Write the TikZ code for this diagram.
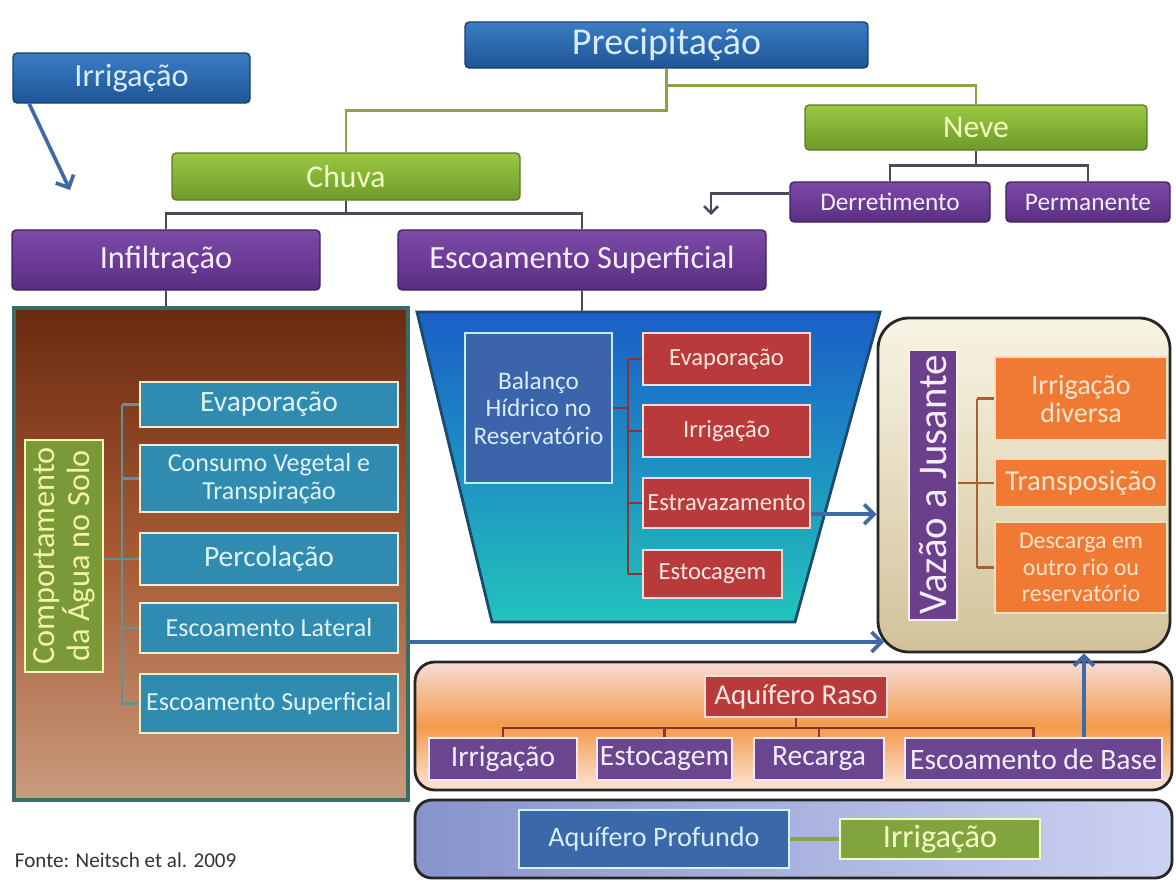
\documentclass[tikz,border=0pt]{standalone}
\usepackage{fontspec}
\setmainfont{Carlito}
\usetikzlibrary{arrows.meta}

\begin{document}
\begin{tikzpicture}[x=0.025cm,y=-0.025cm,
    area/.style n args={4}{at={({(#1+#3)/2},{(#2+#4)/2})},minimum width={(#3-#1)*0.025cm},minimum height={(#4-#2)*0.025cm}},
    box/.style={inner sep=0pt,align=center},
    bluebox/.style={box,rounded corners=3pt,draw=BlueEdge,line width=1pt,top color=BlueTop,bottom color=BlueBot,text=BlueText,font=\fontsize{23}{26}\selectfont},
    greenbox/.style={box,rounded corners=3pt,draw=GreenEdge,line width=1pt,top color=GreenTop,bottom color=GreenBot,text=GreenText,font=\fontsize{22.5}{26}\selectfont},
    purplebox/.style={box,rounded corners=3pt,draw=PurpleEdge,line width=1pt,top color=PurpleTop,bottom color=PurpleBot,text=PurpleText,font=\fontsize{23}{26}\selectfont},
    tealbox/.style={box,fill=TealBox,draw=Cream,line width=1.8pt,text=TealText,font=\fontsize{18.5}{20}\selectfont},
    redbox/.style={box,fill=RedBox,draw=RedEdge,line width=1.6pt,text=RedText,font=\fontsize{17.5}{19}\selectfont},
    orangebox/.style={box,fill=OrangeBox,draw=OrangeEdge,line width=1.6pt,text=OrangeText,font=\fontsize{18}{19}\selectfont},
    aqbox/.style={box,fill=AqPurple,draw=AqEdge,line width=1.6pt,text=PurpleText,font=\fontsize{21}{24}\selectfont},
    panel/.style={box,draw=black!85,line width=2pt},
    greenline/.style={draw=GreenLine,line width=2pt},
    darkline/.style={draw=DarkLine,line width=2pt},
    bluearrow/.style={draw=ArrowBlue,line width=2.6pt,-{Straight Barb[length=7pt,width=14pt]}},
    darkarrow/.style={draw=DarkLine,line width=1.8pt,-{Straight Barb[length=5pt,width=10pt]}}]
    \definecolor{BlueTop}{HTML}{3A7CC4}
    \definecolor{BlueBot}{HTML}{1F5596}
    \definecolor{BlueEdge}{HTML}{1A3F70}
    \definecolor{BlueText}{HTML}{D8ECFF}
    \definecolor{GreenTop}{HTML}{9CC844}
    \definecolor{GreenBot}{HTML}{6E9A2A}
    \definecolor{GreenEdge}{HTML}{5A7A22}
    \definecolor{GreenText}{HTML}{F2FFC4}
    \definecolor{PurpleTop}{HTML}{7D4AA8}
    \definecolor{PurpleBot}{HTML}{5A2E82}
    \definecolor{PurpleEdge}{HTML}{3E2060}
    \definecolor{PurpleText}{HTML}{F4EEFC}
    \definecolor{TealBox}{HTML}{2F8CB0}
    \definecolor{TealText}{HTML}{DFF2F4}
    \definecolor{TealLine}{HTML}{5F9494}
    \definecolor{Cream}{HTML}{F2ECD0}
    \definecolor{RedBox}{HTML}{B83A3A}
    \definecolor{RedEdge}{HTML}{F4DCD8}
    \definecolor{RedText}{HTML}{F8E8E0}
    \definecolor{RedLine}{HTML}{8C3434}
    \definecolor{OrangeBox}{HTML}{F07A34}
    \definecolor{OrangeEdge}{HTML}{F8DCC0}
    \definecolor{OrangeText}{HTML}{FBE4CC}
    \definecolor{OrangeLine}{HTML}{A8602C}
    \definecolor{AqPurple}{HTML}{6A4690}
    \definecolor{AqEdge}{HTML}{F0E8F8}
    \definecolor{GreenLine}{HTML}{8AA345}
    \definecolor{DarkLine}{HTML}{4A4A5A}
    \definecolor{ArrowBlue}{HTML}{3E6AA6}
    \definecolor{SoilTop}{HTML}{6A2A10}
    \definecolor{SoilMid}{HTML}{A65A34}
    \definecolor{SoilBot}{HTML}{C99B7E}
    \definecolor{SoilEdge}{HTML}{3C6B68}
    \definecolor{ResTop}{HTML}{1A5EC8}
    \definecolor{ResBot}{HTML}{22C4BC}
    \definecolor{ResEdge}{HTML}{1B4A6E}
    \definecolor{LabelGreen}{HTML}{7A9A38}
    \definecolor{LabelText}{HTML}{F4F4A8}
    \definecolor{BalBlue}{HTML}{3B64AB}
    \definecolor{BalEdge}{HTML}{BFF0F8}
    \definecolor{VazTop}{HTML}{F8F4E4}
    \definecolor{VazBot}{HTML}{D2C29A}
    \definecolor{VazPurple}{HTML}{6B3F8C}
    \definecolor{RasoTop}{HTML}{F6DCD6}
    \definecolor{RasoMid}{HTML}{F49A4C}
    \definecolor{RasoBot}{HTML}{FBE6D4}
    \definecolor{ProfLeft}{HTML}{8794CC}
    \definecolor{ProfRight}{HTML}{CCD2F2}
    \definecolor{ProfBlue}{HTML}{3A68A8}
    \definecolor{ProfEdge}{HTML}{D8F0F8}
    \definecolor{IrrGreen}{HTML}{82A43E}

    \fill[white] (0,0) rectangle (1176,881);
    \useasboundingbox (0,0) rectangle (1176,881);

    % top of the tree
    \node[bluebox,font=\fontsize{27}{30}\selectfont,area={465}{22}{868}{68}] (prec) {Precipitação};
    \node[bluebox,area={13}{53}{250}{103}] (irr) {Irrigação};
    \node[greenbox,area={172}{153}{520}{200}] (chuva) {Chuva};
    \node[greenbox,area={805}{105}{1147}{150}] (neve) {Neve};
    \node[purplebox,area={12}{230}{320}{290}] (infil) {Infiltração};
    \node[purplebox,area={398}{230}{766}{290}] (escsup) {Escoamento Superficial};
    \node[purplebox,font=\fontsize{18}{20}\selectfont,area={790}{182}{990}{222}] (derr) {Derretimento};
    \node[purplebox,font=\fontsize{18}{20}\selectfont,area={1006}{182}{1170}{222}] (perm) {Permanente};

    \draw[greenline] (prec.south) -- ++(0,42) -| (chuva.north);
    \draw[greenline] (prec.south) -- ++(0,17) -| (neve.north);
    \draw[darkline] (chuva.south) -- ++(0,13) -| (infil.north);
    \draw[darkline] (chuva.south) -- ++(0,13) -| (escsup.north);
    \draw[darkline] (neve.south) -- ++(0,15) -| (derr.north);
    \draw[darkline] (neve.south) -- ++(0,15) -| (perm.north);

    \coordinate (irrTip) at (70,190);
    \draw[bluearrow] ([xshift=12pt]irr.south west) -- (irrTip);
    \coordinate (meltTip) at (711,215);
    \draw[darkarrow] ([yshift=6pt]derr.west) -| (meltTip);

    % soil
    \node[panel,draw=SoilEdge,line width=2.2pt,top color=SoilTop,bottom color=SoilBot,middle color=SoilMid,area={14}{308}{408}{800}] (soil) {};
    \draw[darkline] (infil.south) -- (infil.south |- soil.north);
    \node[box,fill=LabelGreen,draw=LabelText!80!white,line width=1.5pt,area={25}{440}{103}{672}] (comp) {};
    \node[rotate=90,align=center,text=LabelText,font=\fontsize{23}{25}\selectfont] (compt) at (comp.center) {Comportamento\\da Água no Solo};
    \node[tealbox,font=\fontsize{21}{22}\selectfont,area={140}{382}{398}{427}] (ev1) {Evaporação};
    \node[tealbox,area={140}{445}{398}{512}] (cv) {Consumo Vegetal e\\Transpiração};
    \node[tealbox,font=\fontsize{21}{22}\selectfont,area={140}{533}{398}{585}] (perc) {Percolação};
    \node[tealbox,area={140}{603}{398}{653}] (lat) {Escoamento Lateral};
    \node[tealbox,area={140}{674}{398}{733}] (es1) {Escoamento Superficial};
    \coordinate (sb) at (122,0);
    \draw[TealLine,line width=2pt] (sb |- ev1.west) -- (sb |- es1.west);
    \foreach \n in {ev1,cv,perc,lat,es1}
        \draw[TealLine,line width=2pt] (sb |- \n.west) -- (\n.west);
    \draw[TealLine,line width=2pt] (comp.east |- perc.west) -- (sb |- perc.west);

    % reservoir
    \path[draw=ResEdge,line width=2pt,top color=ResTop,bottom color=ResBot] (417,312) -- (880,312) -- (795,622) -- (492,622) -- cycle;
    \coordinate (resTop) at (582,312);
    \draw[darkline] (escsup.south) -- (resTop);
    \node[box,fill=BalBlue,draw=BalEdge,line width=1.8pt,text=BlueText,font=\fontsize{18}{19.5}\selectfont,area={465}{333}{612}{483}] (bal) {Balanço\\Hídrico no\\Reservatório};
    \node[redbox,area={643}{333}{810}{385}] (r1) {Evaporação};
    \node[redbox,area={643}{405}{810}{457}] (r2) {Irrigação};
    \node[redbox,area={643}{478}{810}{528}] (r3) {Estravazamento};
    \node[redbox,area={643}{550}{782}{598}] (r4) {Estocagem};
    \coordinate (rb) at (628,0);
    \draw[RedLine,line width=1.8pt] (rb |- r1.west) -- (rb |- r4.west);
    \foreach \n in {r1,r2,r3,r4}
        \draw[RedLine,line width=1.8pt] (rb |- \n.west) -- (\n.west);
    \draw[RedLine,line width=1.8pt] (bal.east) -- (rb |- bal.east);

    % downstream flow
    \node[panel,rounded corners=22pt,top color=VazTop,bottom color=VazBot,area={878}{318}{1170}{652}] (vaz) {};
    \node[box,fill=VazPurple,draw=VazTop,line width=1pt,area={909}{350}{957}{620}] (vazl) {};
    \node[rotate=90,text=PurpleText,font=\fontsize{29}{32}\selectfont] (vazt) at (vazl.center) {Vazão a Jusante};
    \node[orangebox,font=\fontsize{20}{20}\selectfont,area={995}{357}{1167}{440}] (o1) {Irrigação\\diversa};
    \node[orangebox,font=\fontsize{20.5}{22}\selectfont,area={995}{459}{1167}{507}] (o2) {Transposição};
    \node[orangebox,font=\fontsize{17}{19}\selectfont,area={995}{522}{1167}{613}] (o3) {Descarga em\\outro rio ou\\reservatório};
    \coordinate (ob) at (977,0);
    \draw[OrangeLine,line width=1.8pt] (ob |- o1.west) -- (ob |- o3.west);
    \foreach \n in {o1,o2,o3}
        \draw[OrangeLine,line width=1.8pt] (ob |- \n.west) -- (\n.west);
    \draw[OrangeLine,line width=1.8pt] (vazl.east |- o2.west) -- (ob |- o2.west);

    \coordinate (eout) at ([yshift=-8pt]r3.east);
    \draw[bluearrow] (eout) -- (eout -| vaz.west);
    \coordinate (latTip) at (884,642);
    \draw[bluearrow] (soil.east |- latTip) -- (latTip);

    % shallow aquifer
    \node[panel,rounded corners=14pt,top color=RasoTop,bottom color=RasoBot,middle color=RasoMid,area={415}{662}{1172}{790}] (rasoP) {};
    \node[redbox,font=\fontsize{20.5}{22}\selectfont,area={705}{676}{887}{717}] (raso) {Aquífero Raso};
    \node[aqbox,area={429}{738}{577}{780}] (a1) {Irrigação};
    \node[aqbox,area={597}{738}{732}{780}] (a2) {Estocagem};
    \node[aqbox,area={754}{738}{884}{780}] (a3) {Recarga};
    \node[aqbox,area={905}{738}{1162}{780}] (a4) {Escoamento de Base};
    \foreach \n in {a1,a2,a3,a4}
        \draw[RedLine,line width=1.8pt] (raso.south) -- ++(0,10) -| (\n.north);
    \coordinate (baseX) at (1084,0);
    \draw[bluearrow] (baseX |- a4.north) -- (baseX |- vaz.south);

    % deep aquifer
    \node[panel,rounded corners=12pt,left color=ProfLeft,right color=ProfRight,area={415}{800}{1172}{878}] (profP) {};
    \node[box,fill=ProfBlue,draw=ProfEdge,line width=1.6pt,text=BlueText,font=\fontsize{20}{22}\selectfont,area={519}{810}{789}{868}] (prof) {Aquífero Profundo};
    \node[box,fill=IrrGreen,draw=GreenText,line width=1.6pt,text=GreenText,font=\fontsize{23}{25}\selectfont,area={840}{819}{1040}{859}] (irr3) {Irrigação};
    \draw[GreenLine,line width=2.5pt] (prof.east) -- (irr3.west);

    \node[anchor=west,text=black!80,font=\fontsize{15}{17}\selectfont] (fonte) at (10,860) {Fonte: Neitsch et al. 2009};
\end{tikzpicture}
\end{document}
